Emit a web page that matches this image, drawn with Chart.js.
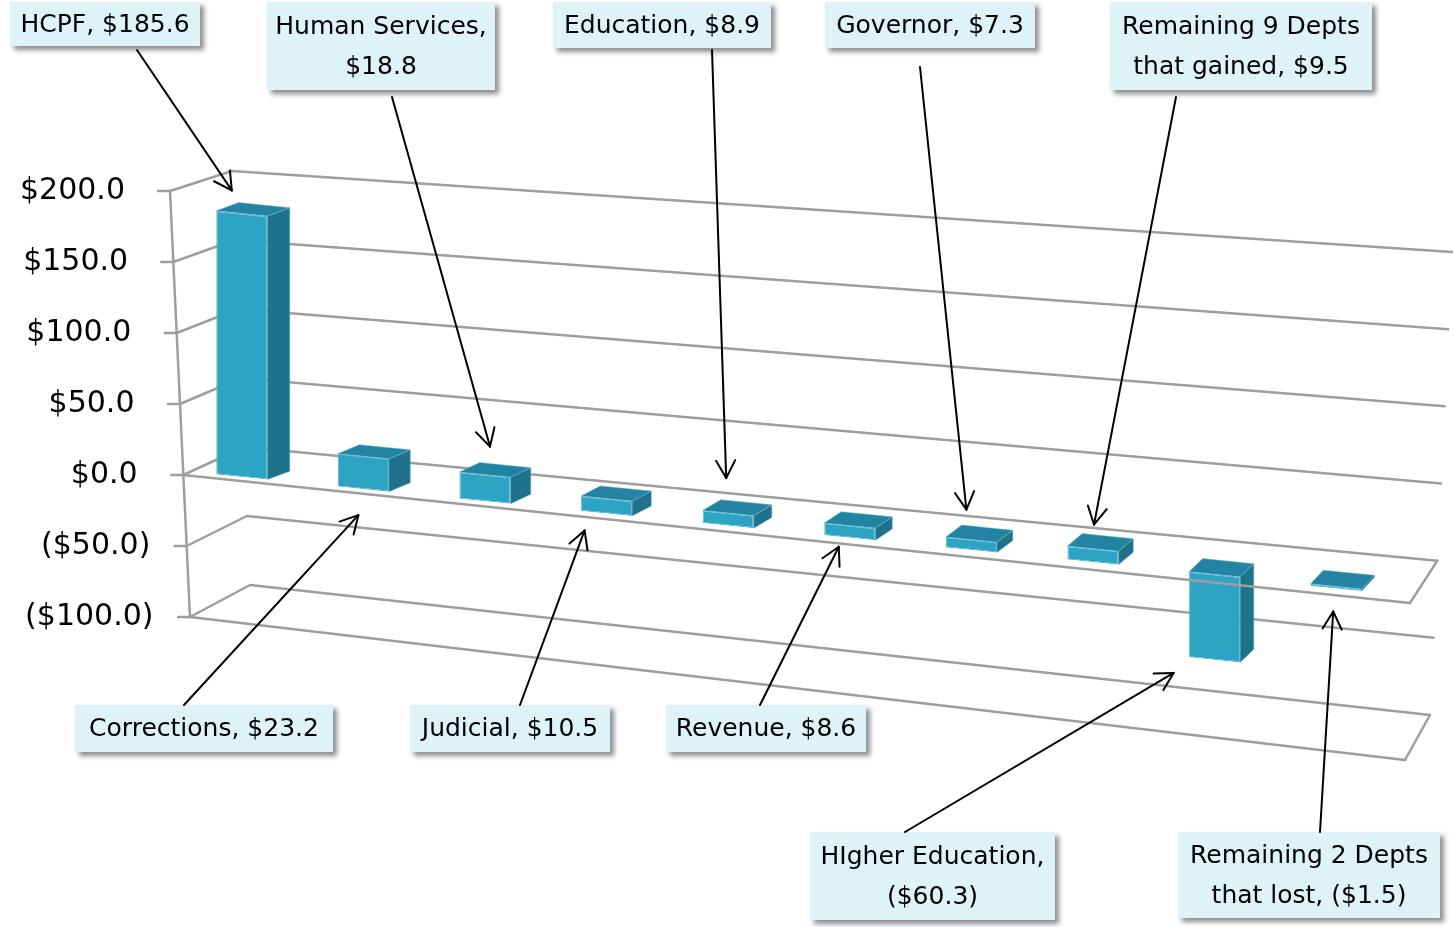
<!DOCTYPE html>
<html>
<head>
<meta charset="utf-8">
<script src="https://cdn.jsdelivr.net/npm/chart.js@4.4.1/dist/chart.umd.min.js"></script>
<style>
  html, body { margin: 0; padding: 0; background: #fff; }
  canvas { display: block; }
</style>
</head>
<body>
<canvas id="c" width="1454" height="927"></canvas>
<script>
// ---- data ($ millions, change by department) ----
const depts = ['HCPF', 'Corrections', 'Human Services', 'Judicial', 'Education', 'Revenue',
  'Governor', 'Remaining 9 Depts that gained', 'HIgher Education', 'Remaining 2 Depts that lost'];
const change = [185.6, 23.2, 18.8, 10.5, 8.9, 8.6, 7.3, 9.5, -60.3, -1.5];
const yTicks = [200, 150, 100, 50, 0, -50, -100];

// callouts: bar index, box [x, y, w, h], arrow start, anchor on bar, tip offset from anchor
const callouts = [
  { i: 0, box: [10, 2, 190, 44],    from: [137, 50],  at: 'top', tip: [-10, -23] },
  { i: 2, box: [267, 2, 228, 88],   from: [392, 97],  at: 'top', tip: [5, -28] },
  { i: 4, box: [553, 2, 218, 46],   from: [712, 50],  at: 'top', tip: [-2, -35] },
  { i: 6, box: [825, 2, 210, 46],   from: [920, 67],  at: 'top', tip: [-5, -30] },
  { i: 7, box: [1110, 2, 262, 88],  from: [1176, 97], at: 'top', tip: [1, -24] },
  { i: 1, box: [75, 705, 258, 47],  from: [184, 705], at: 'bot', tip: [-5, 26] },
  { i: 3, box: [410, 705, 200, 47], from: [520, 705], at: 'bot', tip: [-22, 17] },
  { i: 5, box: [666, 705, 200, 47], from: [760, 705], at: 'bot', tip: [-11, 9] },
  { i: 8, box: [810, 832, 245, 88], from: [905, 832], at: 'bot', tip: [-41, 13] },
  { i: 9, box: [1178, 832, 262, 86],from: [1320, 832],at: 'bot', tip: [-3, 23] }
];

const FONT = '"DejaVu Sans", "Liberation Sans", sans-serif';
const FRONT = '#2EA4C4', SIDE = '#1E728C', TOP = '#2284A2';
const GRID = '#9E9E9E';

// fake 3d: front plane is sheared (screen y = y + S*(x - X0)), bars get a depth offset
const S = 0.1, X0 = 222;
const sh = (x, y) => [x, y + S * (x - X0)];
// depth offset shrinks sideways / grows upward towards the right (perspective)
const depth = u => [23 - 11 * u, -8 - 6 * u];

const money = v => v < 0 ? '($' + (-v).toFixed(1) + ')' : '$' + v.toFixed(1);

function line(ctx, a, b) {
  ctx.beginPath(); ctx.moveTo(a[0], a[1]); ctx.lineTo(b[0], b[1]); ctx.stroke();
}
function poly(ctx, pts, fill) {
  ctx.beginPath();
  pts.forEach((p, k) => k ? ctx.lineTo(p[0], p[1]) : ctx.moveTo(p[0], p[1]));
  ctx.closePath();
  ctx.fillStyle = fill; ctx.fill();
  ctx.strokeStyle = 'rgba(110,185,210,0.5)'; ctx.lineWidth = 1; ctx.stroke();
}

// wall corner points for a value on the y scale
function wall(chart, v) {
  const y = chart.scales.y, a = chart.chartArea;
  const py = y.getPixelForValue(v);
  const t = (py - y.top) / (y.bottom - y.top);
  return {
    fl: [a.left - 11 + 20 * t, py],
    bl: [a.left + 51 + 18 * t, py - 20 - 12 * t],
    br: [a.right + 55 - 22 * t, py + 61 + 37 * t],
    fr: [a.right + 23 - 15 * t, py + 98 + 45 * t]
  };
}

function wrap(ctx, text, maxW) {
  const words = text.split(' '), out = [];
  let cur = '';
  words.forEach(w => {
    const test = cur ? cur + ' ' + w : w;
    if (cur && ctx.measureText(test).width > maxW) { out.push(cur); cur = w; }
    else cur = test;
  });
  out.push(cur);
  return out;
}

const chart3d = {
  id: 'chart3d',
  beforeDraw(chart) {
    // lean the tick labels along the slanted front axis
    const y = chart.scales.y;
    const items = y.getLabelItems();
    if (items._leaned) return;
    items.forEach(it => {
      const t = (it.options.translation[1] - y.top) / (y.bottom - y.top);
      it.options.translation[0] += -9.5 + 19 * t;
    });
    items._leaned = true;
  },
  beforeDatasetsDraw(chart) {
    const ctx = chart.ctx;
    ctx.save();
    ctx.strokeStyle = GRID; ctx.lineWidth = 2.5; ctx.lineCap = 'round';
    const top = wall(chart, yTicks[0]), bot = wall(chart, yTicks[yTicks.length - 1]);
    line(ctx, top.fl, bot.fl);
    yTicks.forEach(v => {
      const w = wall(chart, v);
      line(ctx, [w.fl[0] - 12, w.fl[1]], w.fl);
      line(ctx, w.fl, w.bl);
      line(ctx, w.bl, w.br);
    });
    const z = wall(chart, 0);
    line(ctx, z.br, z.fr);
    line(ctx, bot.fl, bot.fr);
    line(ctx, bot.fr, bot.br);
    ctx.restore();
    ctx.save();
    ctx.transform(1, S, 0, 1, 0, -S * X0);
  },
  afterDatasetsDraw(chart) {
    const ctx = chart.ctx;
    ctx.restore();
    const a = chart.chartArea;
    chart.getDatasetMeta(0).data.forEach(el => {
      const { x, y, base, width } = el.getProps(['x', 'y', 'base', 'width'], true);
      const [dx, dy] = depth((x - a.left) / (a.right - a.left));
      const l = x - width / 2, r = x + width / 2;
      const t = Math.min(y, base), b = Math.max(y, base);
      const p1 = sh(l, t), p2 = sh(r, t), p3 = sh(r, b);
      poly(ctx, [p2, [p2[0] + dx, p2[1] + dy], [p3[0] + dx, p3[1] + dy], p3], SIDE);
      poly(ctx, [p1, p2, [p2[0] + dx, p2[1] + dy], [p1[0] + dx, p1[1] + dy]], TOP);
    });
    // front edge of the zero plane sits in front of the bars
    const z = wall(chart, 0);
    ctx.save();
    ctx.strokeStyle = GRID; ctx.lineWidth = 2.5; ctx.lineCap = 'round';
    line(ctx, z.fl, z.fr);
    ctx.restore();
  },
  afterDraw(chart) {
    const ctx = chart.ctx;
    const bars = chart.getDatasetMeta(0).data;
    ctx.save();
    ctx.font = '25px ' + FONT;
    callouts.forEach(c => {
      const [bx, by, bw, bh] = c.box;
      ctx.save();
      ctx.shadowColor = 'rgba(0,0,0,0.45)';
      ctx.shadowBlur = 5; ctx.shadowOffsetX = 4; ctx.shadowOffsetY = 4;
      ctx.fillStyle = '#DDF3F8';
      ctx.fillRect(bx, by, bw, bh);
      ctx.restore();

      const lines = wrap(ctx, depts[c.i] + ', ' + money(change[c.i]), bw - 12);
      ctx.fillStyle = '#000'; ctx.textAlign = 'center'; ctx.textBaseline = 'middle';
      const cy = by + bh / 2 - (lines.length - 1) * 20;
      lines.forEach((s, k) => ctx.fillText(s, bx + bw / 2, cy + k * 40 + 1));

      // arrow
      const el = bars[c.i];
      const { x, y, base } = el.getProps(['x', 'y', 'base'], true);
      const a = sh(x, c.at === 'top' ? Math.min(y, base) : Math.max(y, base));
      const tip = [a[0] + c.tip[0], a[1] + c.tip[1]];
      ctx.strokeStyle = '#000'; ctx.lineWidth = 2; ctx.lineCap = 'round';
      line(ctx, c.from, tip);
      const ang = Math.atan2(tip[1] - c.from[1], tip[0] - c.from[0]);
      [0.5, -0.5].forEach(d => {
        line(ctx, tip, [tip[0] - 20 * Math.cos(ang + d), tip[1] - 20 * Math.sin(ang + d)]);
      });
    });
    ctx.restore();
  }
};

new Chart(document.getElementById('c'), {
  type: 'bar',
  data: {
    labels: depts,
    datasets: [{
      data: change,
      backgroundColor: FRONT,
      borderColor: '#5CB8D2',
      borderWidth: 1,
      borderSkipped: false,
      barPercentage: 0.42,
      categoryPercentage: 1.0,
      clip: false
    }]
  },
  options: {
    responsive: false,
    animation: false,
    devicePixelRatio: 1,
    layout: { padding: { left: 0, top: 191, right: 57, bottom: 310 } },
    plugins: { legend: { display: false }, tooltip: { enabled: false } },
    scales: {
      x: { display: false },
      y: {
        min: -100, max: 200,
        afterBuildTicks: a => { a.ticks = yTicks.map(v => ({ value: v })); },
        afterFit: a => { a.width = 181; },
        grid: { display: false, drawTicks: false },
        border: { display: false },
        ticks: {
          padding: 37,
          color: '#000',
          font: { family: FONT, size: 30 },
          callback: v => v < 0 ? money(v) : money(v) + ' '
        }
      }
    }
  },
  plugins: [chart3d]
});
</script>
</body>
</html>
